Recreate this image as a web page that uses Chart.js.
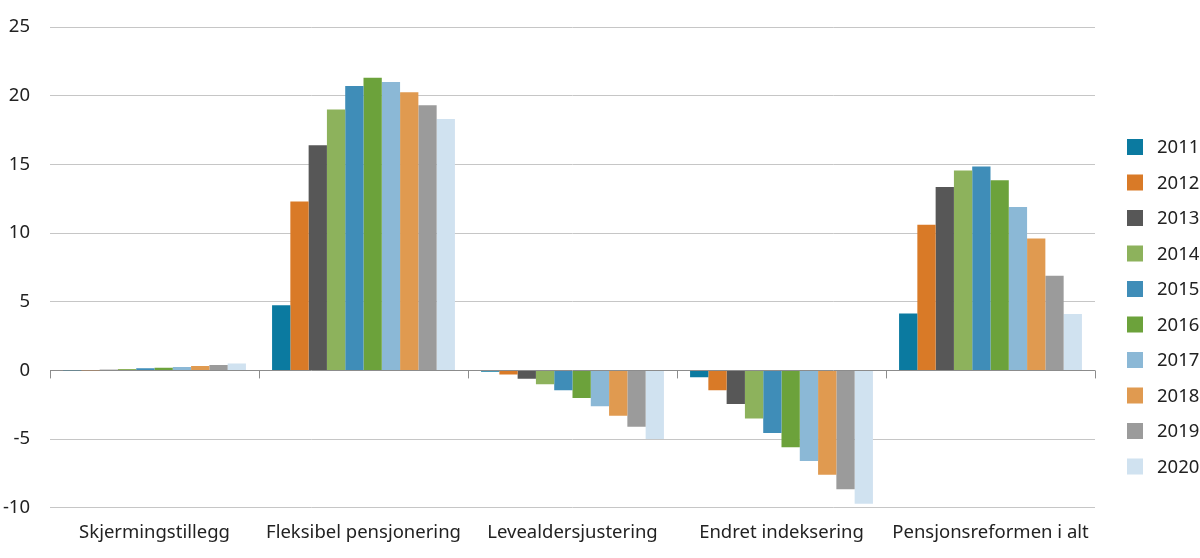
<!DOCTYPE html>
<html>
<head>
<meta charset="utf-8">
<script src="https://cdn.jsdelivr.net/npm/chart.js@4.4.1/dist/chart.umd.min.js"></script>
<style>
  html, body { margin: 0; padding: 0; background: #fff; }
  #wrap { width: 1200px; height: 558px; }
</style>
</head>
<body>
<div id="wrap"><canvas id="chart" width="1200" height="558"></canvas></div>
<script>
// Categories and tick labels
const categories = ['Skjermingstillegg', 'Fleksibel pensjonering', 'Levealdersjustering', 'Endret indeksering', 'Pensjonsreformen i alt'];
const years = ['2011', '2012', '2013', '2014', '2015', '2016', '2017', '2018', '2019', '2020'];
const yTicks = [25, 20, 15, 10, 5, 0, -5, -10];

// One array per year, values for each category
const v2011 = [0.01, 4.75, -0.1, -0.5, 4.15];
const v2012 = [0.02, 12.3, -0.3, -1.45, 10.6];
const v2013 = [0.05, 16.4, -0.6, -2.45, 13.35];
const v2014 = [0.1, 19.0, -1.0, -3.5, 14.55];
const v2015 = [0.15, 20.7, -1.45, -4.55, 14.85];
const v2016 = [0.2, 21.3, -2.0, -5.6, 13.85];
const v2017 = [0.25, 21.0, -2.6, -6.6, 11.9];
const v2018 = [0.32, 20.25, -3.3, -7.6, 9.6];
const v2019 = [0.4, 19.3, -4.1, -8.65, 6.9];
const v2020 = [0.5, 18.3, -5.0, -9.7, 4.1];

const seriesValues = [v2011, v2012, v2013, v2014, v2015, v2016, v2017, v2018, v2019, v2020];
const colors = ['#0b7aa0', '#d97a27', '#575757', '#8db25c', '#3f8db8', '#6ca23b', '#8bb8d6', '#e09a50', '#9b9b9b', '#d0e2f0'];

const fontFamily = '"Noto Sans", "Open Sans", sans-serif';
const fontSize = 18.5;

// Small downward ticks on the zero line at category boundaries
const zeroTicks = {
    id: 'zeroTicks',
    afterDatasetsDraw(chart) {
        const ctx = chart.ctx;
        const x = chart.scales.x;
        const y0 = chart.scales.y.getPixelForValue(0);
        const step = x.width / categories.length;
        ctx.save();
        ctx.strokeStyle = '#8c8c8c';
        ctx.lineWidth = 1;
        for (let i = 0; i <= categories.length; i++) {
            const px = Math.round(x.left + i * step) + 0.5;
            ctx.beginPath();
            ctx.moveTo(px, y0);
            ctx.lineTo(px, y0 + 8);
            ctx.stroke();
        }
        ctx.restore();
    }
};

// Legend at the right, one row per year
const sideLegend = {
    id: 'sideLegend',
    afterDraw(chart) {
        const ctx = chart.ctx;
        const boxX = chart.chartArea.right + 32;
        const firstY = 147;
        const step = 35.5;
        ctx.save();
        ctx.font = fontSize + 'px ' + fontFamily;
        ctx.textBaseline = 'middle';
        chart.data.datasets.forEach((ds, i) => {
            const cy = firstY + i * step;
            ctx.fillStyle = ds.backgroundColor;
            ctx.fillRect(boxX, cy - 8, 16, 16);
            ctx.fillStyle = '#222';
            ctx.fillText(ds.label, boxX + 30, cy + 1);
        });
        ctx.restore();
    }
};

document.addEventListener('DOMContentLoaded', function () {
    const chartData = {
        labels: categories,
        datasets: years.map((yr, i) => ({
            label: yr,
            data: seriesValues[i],
            backgroundColor: colors[i],
            borderWidth: 0,
            categoryPercentage: 0.875,
            barPercentage: 1.0
        }))
    };

    const chartCanvas = document.getElementById('chart').getContext('2d');

    new Chart(chartCanvas, {
        type: 'bar',
        data: chartData,
        plugins: [zeroTicks, sideLegend],
        options: {
            responsive: false,
            animation: false,
            scales: {
                x: {
                    grid: { display: false },
                    border: { display: false },
                    ticks: {
                        color: '#222',
                        font: { family: fontFamily, size: fontSize },
                        padding: 6
                    }
                },
                y: {
                    min: -10,
                    max: 25,
                    afterBuildTicks: (scale) => { scale.ticks = yTicks.map(v => ({ value: v })); },
                    afterFit: (scale) => { scale.width = 50; scale.paddingTop = 0; },
                    grid: {
                        color: (c) => c.tick && c.tick.value === 0 ? '#8c8c8c' : '#c6c6c6',
                        lineWidth: 1,
                        drawTicks: false
                    },
                    border: { display: false },
                    ticks: {
                        color: '#222',
                        font: { family: fontFamily, size: fontSize },
                        padding: 20
                    }
                }
            },
            plugins: {
                legend: { display: false },
                tooltip: { enabled: false }
            },
            layout: {
                padding: { left: 0, right: 105, top: 27, bottom: 8 }
            }
        }
    });
});
</script>
</body>
</html>
